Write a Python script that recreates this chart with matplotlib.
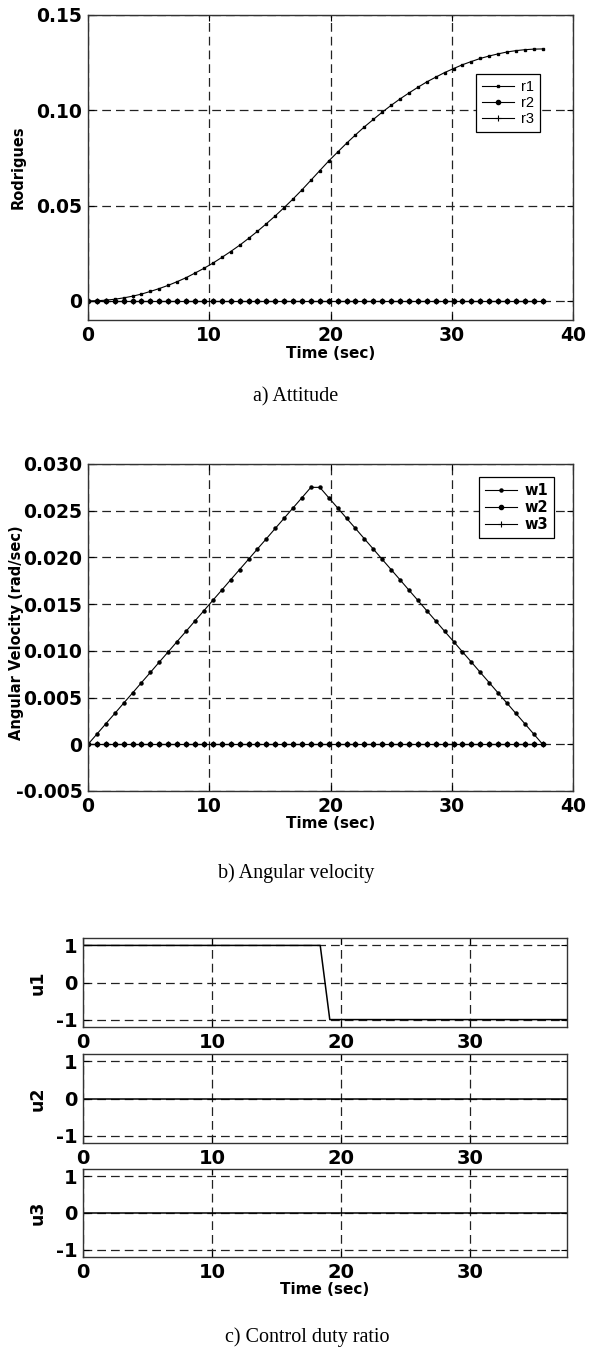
import matplotlib
matplotlib.use("Agg")
from matplotlib import pyplot as plt

# sampled time base of the manoeuvre (sec)
time = [0.00, 0.74, 1.47, 2.21, 2.94, 3.68, 4.41, 5.15, 5.88, 6.62,
        7.35, 8.09, 8.82, 9.56, 10.29, 11.03, 11.76, 12.50, 13.24, 13.97,
        14.71, 15.44, 16.18, 16.91, 17.65, 18.38, 19.12, 19.85, 20.59, 21.32,
        22.06, 22.79, 23.53, 24.26, 25.00, 25.74, 26.47, 27.21, 27.94, 28.68,
        29.41, 30.15, 30.88, 31.62, 32.35, 33.09, 33.82, 34.56, 35.29, 36.03,
        36.76, 37.50]

# modified Rodrigues parameters
r1 = [0.0000, 0.0001, 0.0004, 0.0009, 0.0016, 0.0025, 0.0036, 0.0050, 0.0065, 0.0082,
      0.0101, 0.0122, 0.0146, 0.0171, 0.0198, 0.0228, 0.0259, 0.0292, 0.0328, 0.0365,
      0.0405, 0.0446, 0.0490, 0.0535, 0.0583, 0.0633, 0.0684, 0.0734, 0.0781, 0.0827,
      0.0871, 0.0913, 0.0952, 0.0990, 0.1026, 0.1060, 0.1091, 0.1121, 0.1149, 0.1174,
      0.1198, 0.1219, 0.1239, 0.1256, 0.1272, 0.1285, 0.1296, 0.1306, 0.1313, 0.1318,
      0.1321, 0.1322]
r2 = [0.0] * len(time)
r3 = [0.0] * len(time)

# body rates (rad/sec)
w1 = [0.0000, 0.0011, 0.0022, 0.0033, 0.0044, 0.0055, 0.0066, 0.0077, 0.0088, 0.0099,
      0.0110, 0.0121, 0.0132, 0.0143, 0.0154, 0.0165, 0.0176, 0.0187, 0.0198, 0.0209,
      0.0220, 0.0231, 0.0242, 0.0253, 0.0264, 0.0275, 0.0275, 0.0264, 0.0253, 0.0242,
      0.0231, 0.0220, 0.0209, 0.0198, 0.0187, 0.0176, 0.0165, 0.0154, 0.0143, 0.0132,
      0.0121, 0.0110, 0.0099, 0.0088, 0.0077, 0.0066, 0.0055, 0.0044, 0.0033, 0.0022,
      0.0011, 0.0000]
w2 = [0.0] * len(time)
w3 = [0.0] * len(time)

# thruster duty ratios (bang-bang about the switch near 18.7 s)
u1 = [1.0] * 26 + [-1.0] * 26
u2 = [0.0] * len(time)
u3 = [0.0] * len(time)

a_yticks = [0, 0.05, 0.10, 0.15]
a_yticklabels = ["0", "0.05", "0.10", "0.15"]
b_yticks = [-0.005, 0, 0.005, 0.010, 0.015, 0.020, 0.025, 0.030]
b_yticklabels = ["-0.005", "0", "0.005", "0.010", "0.015", "0.020", "0.025", "0.030"]
ab_xticks = [0, 10, 20, 30, 40]
u_xticks = [0, 10, 20, 30]
u_yticks = [-1, 0, 1]

plt.rcParams["font.family"] = "DejaVu Sans"
plt.rcParams["font.weight"] = "bold"
plt.rcParams["axes.labelweight"] = "bold"
plt.rcParams["axes.unicode_minus"] = False

W, H = 597, 1347
fig = plt.figure(figsize=(W / 100, H / 100), dpi=100)


def add_axes(left, top, right, bottom):
    return fig.add_axes([left / W, 1 - bottom / H, (right - left) / W, (bottom - top) / H])


def style(ax, tick_size=13.5):
    ax.grid(True, color="#222222", linestyle=(0, (7, 4)), linewidth=0.9)
    ax.tick_params(direction="in", length=4, width=0.8, top=True, right=True,
                   labelsize=tick_size, pad=4, colors="black")
    for s in ax.spines.values():
        s.set_linewidth(1.0)
        s.set_color("#333333")
    ax.set_axisbelow(True)


# a) attitude
ax = add_axes(88, 15, 573, 320)
ax.plot(time, r1, "k-", marker="s", markersize=2, linewidth=0.8, label="r1")
ax.plot(time, r2, "k-", marker="o", markersize=3, linewidth=0.8, label="r2")
ax.plot(time, r3, "k-", marker="+", markersize=5, markeredgewidth=0.8, linewidth=0.8, label="r3")
ax.set_xlim(0, 40)
ax.set_ylim(-0.01, 0.15)
ax.set_xticks(ab_xticks)
ax.set_yticks(a_yticks)
ax.set_yticklabels(a_yticklabels)
style(ax)
ax.set_xlabel("Time (sec)", fontsize=11, labelpad=1)
ax.set_ylabel("Rodrigues", fontsize=10.5)
ax.yaxis.set_label_coords(-0.128, 0.5)
leg = ax.legend(loc="upper right", bbox_to_anchor=(0.932, 0.807), borderaxespad=0,
                fancybox=False, edgecolor="black", framealpha=1, handlelength=2.2,
                numpoints=1, labelspacing=0.15, borderpad=0.4, handletextpad=0.5,
                prop={"family": "Liberation Sans", "weight": "normal", "size": 10.5})
leg.get_frame().set_linewidth(0.9)

# b) angular velocity
ax = add_axes(88, 464, 573, 791)
ax.plot(time, w1, "k-", marker="o", markersize=2.2, linewidth=0.8, label="w1")
ax.plot(time, w2, "k-", marker="o", markersize=3, linewidth=0.8, label="w2")
ax.plot(time, w3, "k-", marker="+", markersize=4, markeredgewidth=0.8, linewidth=0.8, label="w3")
ax.set_xlim(0, 40)
ax.set_ylim(-0.005, 0.030)
ax.set_xticks(ab_xticks)
ax.set_yticks(b_yticks)
ax.set_yticklabels(b_yticklabels)
style(ax)
ax.set_xlabel("Time (sec)", fontsize=11, labelpad=0)
ax.set_ylabel("Angular Velocity (rad/sec)", fontsize=10.5)
ax.yaxis.set_label_coords(-0.132, 0.485)
leg = ax.legend(loc="upper right", bbox_to_anchor=(0.961, 0.960), borderaxespad=0,
                fancybox=False, edgecolor="black", framealpha=1, handlelength=2.2,
                numpoints=1, labelspacing=0.15, borderpad=0.4, handletextpad=0.5,
                prop={"weight": "bold", "size": 10.5})
leg.get_frame().set_linewidth(0.9)

# c) control duty ratio
u_rows = [(u1, "u1", 938, 1027), (u2, "u2", 1054, 1143), (u3, "u3", 1169, 1257)]
for u, name, top, bottom in u_rows:
    ax = add_axes(83, top, 567, bottom)
    ax.plot(time, u, "k-", linewidth=1.1)
    ax.set_xlim(0, 37.5)
    ax.set_ylim(-1.2, 1.2)
    ax.set_xticks(u_xticks)
    ax.set_yticks(u_yticks)
    style(ax, tick_size=14)
    ax.set_ylabel(name, fontsize=12.5)
    ax.yaxis.set_label_coords(-0.075, 0.5)
ax.set_xlabel("Time (sec)", fontsize=11, labelpad=0)

caption = {"family": "Liberation Serif", "weight": "normal", "size": 14.5}
fig.text(296 / W, 1 - 397 / H, "a) Attitude", ha="center", va="center", fontdict=caption)
fig.text(296 / W, 1 - 873 / H, "b) Angular velocity", ha="center", va="center", fontdict=caption)
fig.text(307 / W, 1 - 1337 / H, "c) Control duty ratio", ha="center", va="center", fontdict=caption)

fig.savefig("out.png", dpi=100)
